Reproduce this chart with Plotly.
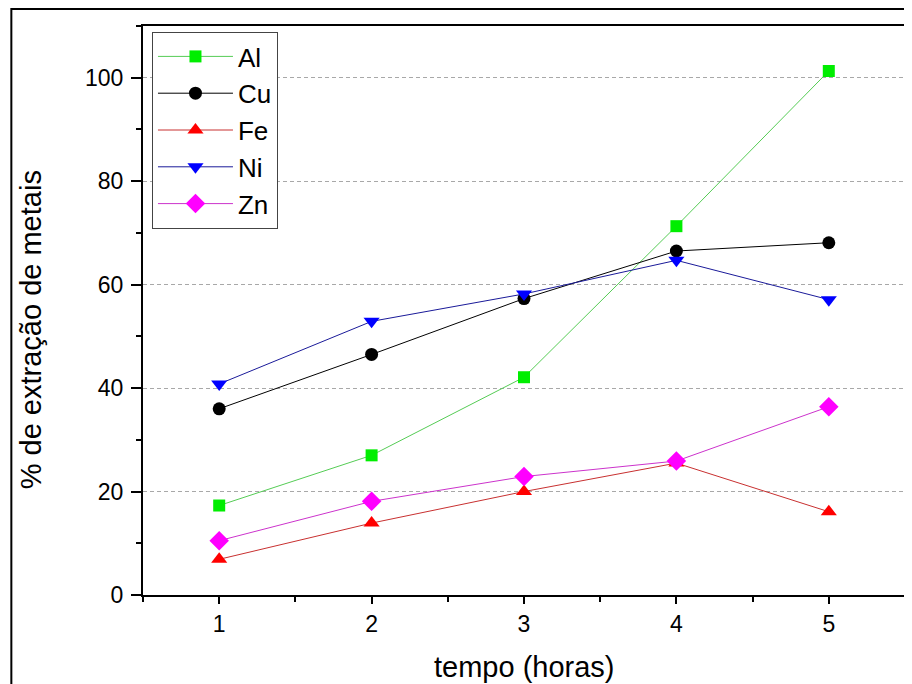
import plotly.graph_objects as go

hours = [1, 2, 3, 4, 5]
al = [17.3, 27.0, 42.1, 71.3, 101.3]
cu = [36.0, 46.5, 57.3, 66.5, 68.1]
fe = [6.9, 13.9, 20.0, 25.5, 16.1]
ni = [40.8, 52.9, 58.2, 64.7, 57.1]
zn = [10.5, 18.1, 22.9, 25.9, 36.4]

x_ticks = [1, 2, 3, 4, 5]
y_ticks = [0, 20, 40, 60, 80, 100]

FONT = "Arial, Liberation Sans, sans-serif"

series = [
    ("Al", al, "#00ee00", "#55cc55", "square", 12),
    ("Cu", cu, "#000000", "#000000", "circle", 13),
    ("Fe", fe, "#ff0000", "#c83030", "triangle-up", 14),
    ("Ni", ni, "#0000ff", "#1a1a99", "triangle-down", 14),
    ("Zn", zn, "#ff00ff", "#cc33cc", "diamond", 15),
]

fig = go.Figure()
for name, vals, mcol, lcol, sym, size in series:
    fig.add_trace(go.Scatter(
        x=hours, y=vals, name=name, mode="lines+markers",
        legendgroup=name,
        line=dict(color=lcol, width=1),
        marker=dict(color=mcol, symbol=sym, size=size, line=dict(width=0)),
    ))

# page body has an 8px margin: figure drawn at 904x676 so it fills the window
W, H = 904, 676
L, R, T, B = 135, 5, 18, 89
pw, ph = W - L - R, H - T - B

def px(x):
    return (x - L) / pw

def py(y):
    return (H - B - y) / ph

fig.update_layout(
    width=W, height=H,
    margin=dict(l=L, r=R, t=T, b=B),
    paper_bgcolor="white", plot_bgcolor="white",
    font=dict(family=FONT, color="black"),
    showlegend=True,
    legend=dict(
        x=px(144), y=py(24), xanchor="left", yanchor="top",
        bgcolor="white", bordercolor="#444444", borderwidth=1,
        font=dict(size=26, family=FONT),
        tracegroupgap=0, itemwidth=75,
    ),
    xaxis=dict(
        range=[0.5, 5.5], tickvals=x_ticks, ticktext=[str(v) for v in x_ticks],
        showgrid=False, zeroline=False,
        showline=True, linecolor="black", linewidth=2, mirror=True,
        ticks="outside", ticklen=7, tickwidth=2, tickcolor="black",
        minor=dict(dtick=0.5, tick0=0.5, ticks="outside", ticklen=5, tickwidth=2,
                   tickcolor="black", showgrid=False),
        tickfont=dict(size=23, family=FONT),
    ),
    yaxis=dict(
        range=[0, 110], tickvals=y_ticks, ticktext=[str(v) for v in y_ticks],
        showgrid=True, gridcolor="#a8a8a8", gridwidth=1, griddash="4px,3px",
        zeroline=False,
        showline=True, linecolor="black", linewidth=2, mirror=True,
        ticks="outside", ticklen=10, tickwidth=2, tickcolor="black",
        minor=dict(dtick=10, tick0=0, ticks="outside", ticklen=5, tickwidth=2,
                   tickcolor="black", showgrid=False),
        tickfont=dict(size=23, family=FONT),
        ticklabelstandoff=3,
    ),
)

# axis titles
fig.add_annotation(text="tempo (horas)", xref="paper", yref="paper",
                   x=px(517), y=py(659), xanchor="center", yanchor="middle",
                   showarrow=False, font=dict(size=29, family=FONT))
fig.add_annotation(text="% de extração de metais", xref="paper", yref="paper",
                   x=px(23), y=py(322), xanchor="center", yanchor="middle",
                   textangle=-90, showarrow=False, font=dict(size=29, family=FONT))

# outer frame
fig.add_shape(type="rect", xref="paper", yref="paper",
              x0=px(3), x1=px(W + 40), y0=py(H + 40), y1=py(1),
              line=dict(color="black", width=2), fillcolor="rgba(0,0,0,0)", layer="below")

fig.write_html("out.html")
